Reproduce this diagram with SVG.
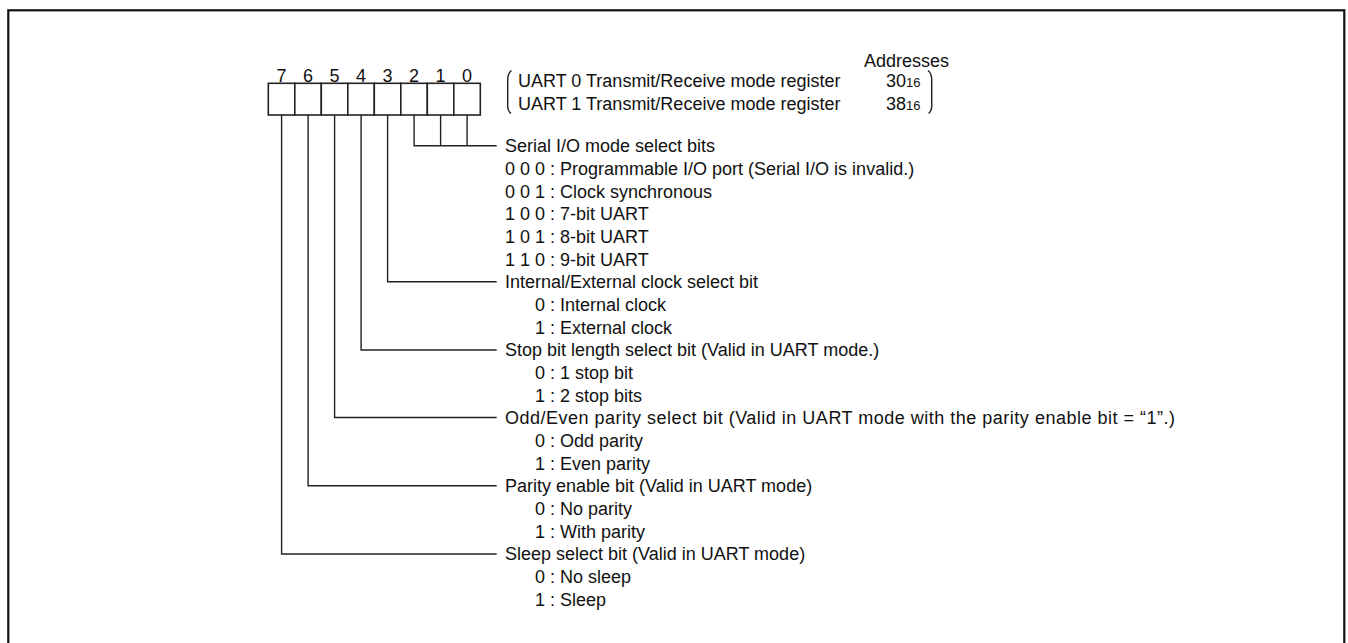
<svg xmlns="http://www.w3.org/2000/svg" width="1348" height="643" viewBox="0 0 1348 643">
<style>
text{font-family:"Liberation Sans",Arial,sans-serif;font-size:18px;fill:#111}
.sub{font-size:13px}
.ln{fill:none;stroke:#222;stroke-width:1.4}
.cell{fill:#fff;stroke:#222;stroke-width:1.6}
.num{text-anchor:middle}
</style>
<rect x="0" y="0" width="1348" height="643" fill="#fff"/>
<rect x="8.3" y="10.3" width="1336" height="700" fill="none" stroke="#111" stroke-width="2.2"/>
<g id="register">
<rect class="cell" x="268.3" y="83.3" width="26.5" height="31.7"/>
<rect class="cell" x="294.8" y="83.3" width="26.5" height="31.7"/>
<rect class="cell" x="321.3" y="83.3" width="26.5" height="31.7"/>
<rect class="cell" x="347.8" y="83.3" width="26.5" height="31.7"/>
<rect class="cell" x="374.3" y="83.3" width="26.5" height="31.7"/>
<rect class="cell" x="400.8" y="83.3" width="26.5" height="31.7"/>
<rect class="cell" x="427.3" y="83.3" width="26.5" height="31.7"/>
<rect class="cell" x="453.8" y="83.3" width="26.5" height="31.7"/>
<text class="num" x="281.6" y="81.5">7</text>
<text class="num" x="308.1" y="81.5">6</text>
<text class="num" x="334.6" y="81.5">5</text>
<text class="num" x="361.1" y="81.5">4</text>
<text class="num" x="387.6" y="81.5">3</text>
<text class="num" x="414.1" y="81.5">2</text>
<text class="num" x="440.6" y="81.5">1</text>
<text class="num" x="467.1" y="81.5">0</text>
</g>
<g id="addresses">
<text x="949" y="66.5" text-anchor="end">Addresses</text>
<path class="ln" d="M511.5,70.5 Q507.7,73.5 507.7,79.5 L507.7,106 Q507.7,111 511,113.5"/>
<path class="ln" d="M928,70.5 Q931.7,73.5 931.7,79.5 L931.7,106 Q931.7,111 928.5,113.5"/>
<text x="518" y="87.3">UART 0 Transmit/Receive mode register</text>
<text x="886" y="87.3">30<tspan class="sub">16</tspan></text>
<text x="518" y="109.8">UART 1 Transmit/Receive mode register</text>
<text x="886" y="109.8">38<tspan class="sub">16</tspan></text>
</g>
<g id="connectors">
<path class="ln" d="M414.1,115 V145.7 H496.7 M440.6,115 V145.7 M467.1,115 V145.7"/>
<path class="ln" d="M387.6,115 V281.7 H496.7"/>
<path class="ln" d="M361.1,115 V350 H496.7"/>
<path class="ln" d="M334.6,115 V417.5 H496.7"/>
<path class="ln" d="M308.1,115 V485.8 H496.7"/>
<path class="ln" d="M281.6,115 V554 H496.7"/>
</g>
<g id="field-serial-io">
<text x="505" y="152.3">Serial I/O mode select bits</text>
<text x="505" y="175">0 0 0 : Programmable I/O port (Serial I/O is invalid.)</text>
<text x="505" y="197.6">0 0 1 : Clock synchronous</text>
<text x="505" y="220.3">1 0 0 : 7-bit UART</text>
<text x="505" y="243">1 0 1 : 8-bit UART</text>
<text x="505" y="265.6">1 1 0 : 9-bit UART</text>
</g>
<g id="field-clock">
<text x="505" y="288.3">Internal/External clock select bit</text>
<text x="535" y="311">0 : Internal clock</text>
<text x="535" y="333.6">1 : External clock</text>
</g>
<g id="field-stop">
<text x="505" y="356.3">Stop bit length select bit (Valid in UART mode.)</text>
<text x="535" y="379">0 : 1 stop bit</text>
<text x="535" y="401.6">1 : 2 stop bits</text>
</g>
<g id="field-oddeven">
<text x="505" y="424.3" textLength="670" lengthAdjust="spacing">Odd/Even parity select bit (Valid in UART mode with the parity enable bit = “1”.)</text>
<text x="535" y="447">0 : Odd parity</text>
<text x="535" y="469.6">1 : Even parity</text>
</g>
<g id="field-parity">
<text x="505" y="492.3">Parity enable bit (Valid in UART mode)</text>
<text x="535" y="515">0 : No parity</text>
<text x="535" y="537.6">1 : With parity</text>
</g>
<g id="field-sleep">
<text x="505" y="560.3">Sleep select bit (Valid in UART mode)</text>
<text x="535" y="583">0 : No sleep</text>
<text x="535" y="605.6">1 : Sleep</text>
</g>
</svg>
